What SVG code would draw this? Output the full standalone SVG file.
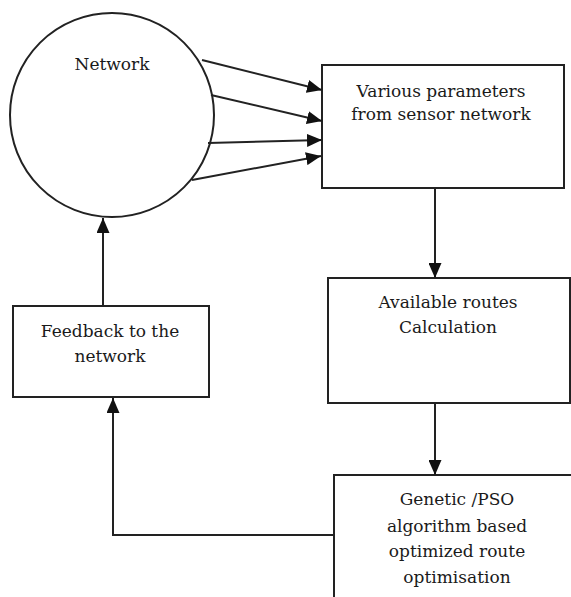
<svg xmlns="http://www.w3.org/2000/svg" width="571" height="597" viewBox="0 0 571 597">
  <defs>
    <marker id="arrowhead" viewBox="0 0 15 13" markerWidth="15" markerHeight="13" refX="15" refY="6.5" orient="auto" markerUnits="userSpaceOnUse">
      <path d="M0,0 L15,6.5 L0,13 Z" fill="#111"/>
    </marker>
  </defs>
  <rect width="571" height="597" fill="#fff"/>

  <g fill="#fff" stroke="#222" stroke-width="2">
    <g id="network">
      <circle cx="112" cy="115" r="102"/>
    </g>
    <g id="parameters">
      <rect x="322" y="65" width="242" height="123"/>
    </g>
    <g id="routes">
      <rect x="328" y="278" width="242" height="125"/>
    </g>
    <g id="optimisation">
      <path d="M334,598 L334,475 L572,475"/>
    </g>
    <g id="feedback">
      <rect x="13" y="306" width="196" height="91"/>
    </g>
  </g>

  <g id="labels" font-family="'DejaVu Serif', 'Liberation Serif', serif" font-size="17" fill="#1a1a1a" text-anchor="middle">
    <text x="112" y="70">Network</text>
    <text x="441" y="97">Various parameters</text>
    <text x="441" y="120">from sensor network</text>
    <text x="448" y="308">Available routes</text>
    <text x="448" y="333">Calculation</text>
    <text x="457" y="505">Genetic /PSO</text>
    <text x="457" y="532">algorithm based</text>
    <text x="457" y="557">optimized route</text>
    <text x="457" y="583">optimisation</text>
    <text x="110" y="337">Feedback to the</text>
    <text x="110" y="362">network</text>
  </g>

  <g id="connectors" fill="none" stroke="#222" stroke-width="2" marker-end="url(#arrowhead)">
    <line x1="202" y1="60" x2="322" y2="90"/>
    <line x1="211" y1="95" x2="322" y2="121"/>
    <line x1="208" y1="143" x2="322" y2="140"/>
    <line x1="192" y1="180" x2="321" y2="156"/>
    <line x1="435" y1="188" x2="435" y2="278"/>
    <line x1="435" y1="403" x2="435" y2="475"/>
    <path d="M334,535 L113,535 L113,398"/>
    <line x1="103" y1="306" x2="103" y2="218"/>
  </g>
</svg>
